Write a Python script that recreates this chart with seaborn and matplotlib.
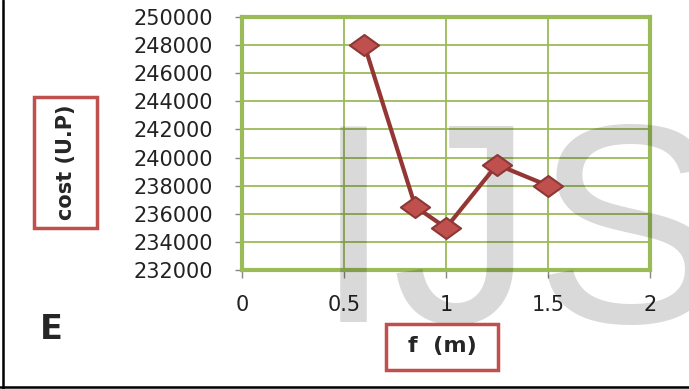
import matplotlib
matplotlib.use("Agg")
import matplotlib.pyplot as plt
from matplotlib import ticker
from matplotlib.path import Path
from matplotlib.patches import Rectangle
from matplotlib.lines import Line2D
import seaborn as sns

# data
f_m = [0.6, 0.85, 1.0, 1.25, 1.5]
cost = [248000, 236500, 235000, 239500, 238000]

x_ticks = [0, 0.5, 1, 1.5, 2]
y_ticks = list(range(232000, 250001, 2000))

green = "#9bbb59"
red = "#c0504d"

sns.set_style("white")
plt.rcParams['font.family'] = ['DejaVu Sans']

fig = plt.figure(figsize=(6.89, 3.89), dpi=100)
ax = fig.add_axes([242/689, 1-270/389, (650-242)/689, (270-17)/389])

# flattened diamond like the excel marker
diamond = Path([(-1, 0), (0, 0.72), (1, 0), (0, -0.72), (-1, 0)],
               [Path.MOVETO, Path.LINETO, Path.LINETO, Path.LINETO, Path.CLOSEPOLY])

sns.lineplot(x=f_m, y=cost, ax=ax, color="#943634", lw=3, marker=diamond,
             markersize=21, markerfacecolor=red, markeredgecolor="#8c3836",
             markeredgewidth=1.5, zorder=5)

ax.set_xlim(0, 2)
ax.set_ylim(232000, 250000)
ax.set_xticks(x_ticks)
ax.set_xticklabels(["0", "0.5", "1", "1.5", "2"])
ax.set_yticks(y_ticks)
ax.grid(True, color=green, lw=1.3)
for s in ax.spines.values():
    s.set_color(green)
    s.set_linewidth(3)
ax.tick_params(axis="y", which="major", left=True, length=5, width=1, color="#868686",
               labelsize=15, pad=16, labelcolor="#222222")
ax.tick_params(axis="x", which="major", bottom=True, length=6, width=1, color="#868686",
               labelsize=15, pad=12, labelcolor="#222222")
ax.set_xlabel("")
ax.set_ylabel("")

# watermark
ax.text(314/689, 1-322/389, "IJS", transform=fig.transFigure, fontsize=205,
        family="Liberation Sans", color="black", alpha=0.15, ha="left",
        va="baseline", clip_on=False, zorder=4)

# axis label boxes
fig.patches.append(Rectangle((34/689, 1-228/389), 63/689, 131/389, transform=fig.transFigure,
                             facecolor="white", edgecolor=red, lw=2.5, zorder=6))
fig.text(66/689, 1-162/389, "cost (U.P)", rotation=90, ha="center", va="center",
         fontsize=15, fontweight="bold", zorder=7)
fig.patches.append(Rectangle((386/689, 1-370/389), 112/689, 46/389, transform=fig.transFigure,
                             facecolor="white", edgecolor=red, lw=2.5, zorder=6))
fig.text(442/689, 1-346/389, "f  (m)", ha="center", va="center",
         fontsize=16, fontweight="bold", zorder=7)

fig.text(40/689, 1-339/389, "E", ha="left", va="baseline", fontsize=24, fontweight="bold")

# outer frame lines
fig.lines.append(Line2D([3/689, 3/689], [0, 1], transform=fig.transFigure, color="black", lw=1.8))
fig.lines.append(Line2D([0, 1], [2/389, 2/389], transform=fig.transFigure, color="black", lw=1.8))

fig.savefig("out.png", dpi=100)
